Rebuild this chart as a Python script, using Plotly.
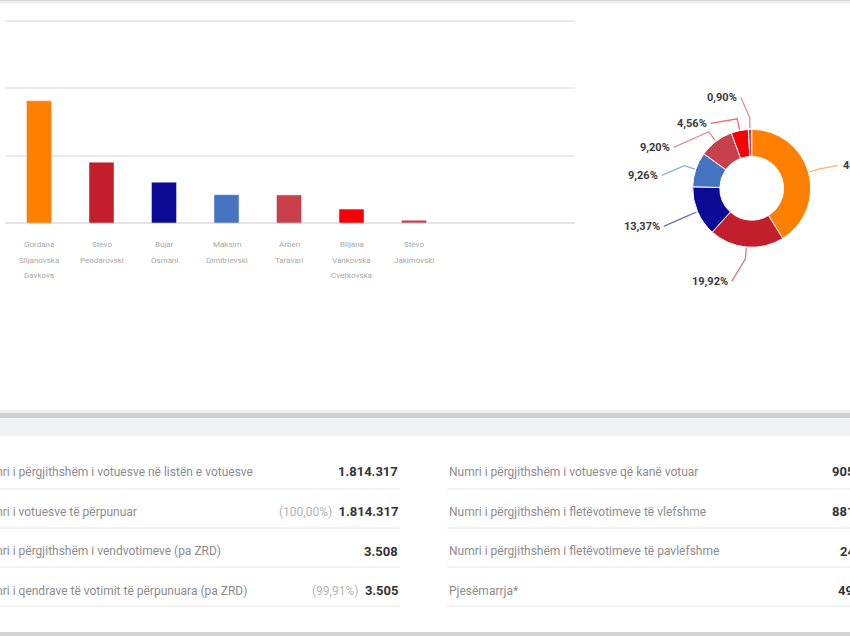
import math
import plotly.graph_objects as go

W, H = 850, 636
FONT = "Roboto"

# ---------------- data ----------------
candidates = ["Gordana Siljanovska Davkova", "Stevo Pendarovski", "Bujar Osmani",
              "Maksim Dimitrievski", "Arben Taravari", "Biljana Vankovska Cvetkovska",
              "Stevo Jakimovski"]
votes = [363085, 180499, 121187, 83935, 83379, 41353, 8164]
shares = [40.08, 19.92, 13.37, 9.26, 9.20, 4.56, 0.90]
share_labels = ["40,08%", "19,92%", "13,37%", "9,26%", "9,20%", "4,56%", "0,90%"]
y_ticks = [0, 200000, 400000, 600000]

stat_labels_left = ["Numri i përgjithshëm i votuesve në listën e votuesve",
                    "Numri i votuesve të përpunuar",
                    "Numri i përgjithshëm i vendvotimeve (pa ZRD)",
                    "Numri i qendrave të votimit të përpunuara (pa ZRD)"]
stat_pct_left = ["", "(100,00%)", "", "(99,91%)"]
stat_values_left = ["1.814.317", "1.814.317", "3.508", "3.505"]
stat_labels_right = ["Numri i përgjithshëm i votuesve që kanë votuar",
                     "Numri i përgjithshëm i fletëvotimeve të vlefshme",
                     "Numri i përgjithshëm i fletëvotimeve të pavlefshme",
                     "Pjesëmarrja*"]
stat_values_right = ["905.722", "881.602", "24.120", "49,92%"]

# ---------------- styles ----------------
colors = ["#FF8000", "#C21E2B", "#0B0B96", "#4673C0", "#C8404C", "#F80008", "#C4434F"]
pie_cx, pie_cy, pie_r = 751.7, 188.3, 59
label_offsets = [(86, -23), (-20, 93), (-88, 38), (-90, -13), (-78, -41), (-41, -65), (-11, -91)]
row_y = [472, 511.5, 551, 590.5]
row_lines = [489, 528, 567, 606]
base_px, grid_top_px = 223, 21   # pixel rows of 0 and of the top tick
y_max = 615000


def px(x):
    return x / W


def py(y):
    return 1 - y / H


def rgba(hexc, a):
    hexc = hexc.lstrip("#")
    r, g, b = int(hexc[0:2], 16), int(hexc[2:4], 16), int(hexc[4:6], 16)
    return f"rgba({r},{g},{b},{a})"


dom_top_px = base_px - (base_px - grid_top_px) * y_max / y_ticks[-1]

fig = go.Figure()

fig.add_trace(go.Bar(x=candidates, y=votes, marker_color=colors, width=0.4,
                     hoverinfo="skip", showlegend=False))

fig.add_trace(go.Pie(values=shares, marker=dict(colors=colors, line=dict(color="white", width=1)),
                     hole=0.54, sort=False, direction="clockwise", rotation=0,
                     textinfo="none", hoverinfo="skip", showlegend=False,
                     domain=dict(x=[px(pie_cx - pie_r), px(pie_cx + pie_r)],
                                 y=[py(pie_cy + pie_r), py(pie_cy - pie_r)])))

shapes = []
annotations = []

# background decorations
shapes += [
    dict(type="rect", xref="paper", yref="paper", x0=0, x1=1, y0=py(1.5), y1=py(0), fillcolor="#d8d8d8", line_width=0, layer="below"),
    dict(type="rect", xref="paper", yref="paper", x0=0, x1=1, y0=py(3.5), y1=py(1.5), fillcolor="#eeeeee", line_width=0, layer="below"),
    dict(type="rect", xref="paper", yref="paper", x0=0, x1=1, y0=py(413), y1=py(410), fillcolor="#ececec", line_width=0, layer="below"),
    dict(type="rect", xref="paper", yref="paper", x0=0, x1=1, y0=py(418), y1=py(413), fillcolor="#cfcfcf", line_width=0, layer="below"),
    dict(type="rect", xref="paper", yref="paper", x0=0, x1=1, y0=py(435), y1=py(418), fillcolor="#f1f2f4", line_width=0, layer="below"),
    dict(type="rect", xref="paper", yref="paper", x0=0, x1=1, y0=py(437), y1=py(435), fillcolor="#f8f8f8", line_width=0, layer="below"),
    dict(type="rect", xref="paper", yref="paper", x0=0, x1=1, y0=py(636), y1=py(632), fillcolor="#d4d4d4", line_width=0, layer="below"),
]

# table row separators
for yl in row_lines:
    shapes.append(dict(type="line", xref="paper", yref="paper", x0=px(0), x1=px(400), y0=py(yl), y1=py(yl),
                       line=dict(color="#e6e6e6", width=1.2)))
    shapes.append(dict(type="line", xref="paper", yref="paper", x0=px(447), x1=px(850), y0=py(yl), y1=py(yl),
                       line=dict(color="#e6e6e6", width=1.2)))

# bar category labels (one line per word)
for name in candidates:
    for j, word in enumerate(name.split(" ")):
        annotations.append(dict(x=name, xref="x", y=0, yref="y", yanchor="middle", xanchor="center",
                                yshift=-(22 + 15 * j), text=word, showarrow=False,
                                font=dict(family=FONT, size=8, color="#a8a8a8")))

# pie leader lines and labels
total = sum(shares)
cum = 0.0
for i, s in enumerate(shares):
    mid = (cum + s / 2) / total * 2 * math.pi
    cum += s
    dx, dy = math.sin(mid), -math.cos(mid)
    ex, ey = pie_cx + (pie_r + 1) * dx, pie_cy + (pie_r + 1) * dy
    bx, by = pie_cx + (pie_r + 12) * dx, pie_cy + (pie_r + 12) * dy
    nx, ny = pie_cx + label_offsets[i][0], pie_cy + label_offsets[i][1]
    path = f"M {px(ex)},{py(ey)} L {px(bx)},{py(by)} L {px(nx)},{py(ny)}"
    shapes.append(dict(type="path", xref="paper", yref="paper", path=path,
                       line=dict(color=rgba(colors[i], 0.6), width=1.3)))
    left_side = label_offsets[i][0] < 0
    annotations.append(dict(x=px(nx), y=py(ny), xref="paper", yref="paper",
                            xanchor="right" if left_side else "left", yanchor="middle",
                            xshift=-2 if left_side else 3,
                            text=f"<b>{share_labels[i]}</b>", showarrow=False,
                            font=dict(family=FONT, size=11, color="#3a3a3a")))

# table texts
for k in range(4):
    annotations.append(dict(x=px(-25), y=py(row_y[k]), xref="paper", yref="paper", xanchor="left",
                            yanchor="middle", text=stat_labels_left[k], showarrow=False,
                            font=dict(family=FONT, size=12, color="#8c8c8c")))
    pct = stat_pct_left[k]
    txt = (f"<span style='color:#b4b4b4;font-size:12px'>{pct}</span>  " if pct else "") + \
          f"<b>{stat_values_left[k]}</b>"
    annotations.append(dict(x=px(400), y=py(row_y[k]), xref="paper", yref="paper", xanchor="right",
                            yanchor="middle", text=txt, showarrow=False,
                            font=dict(family=FONT, size=13, color="#333333")))
    annotations.append(dict(x=px(447), y=py(row_y[k]), xref="paper", yref="paper", xanchor="left",
                            yanchor="middle", text=stat_labels_right[k], showarrow=False,
                            font=dict(family=FONT, size=12, color="#8c8c8c")))
    annotations.append(dict(x=px(883), y=py(row_y[k]), xref="paper", yref="paper", xanchor="right",
                            yanchor="middle", text=f"<b>{stat_values_right[k]}</b>", showarrow=False,
                            font=dict(family=FONT, size=13, color="#333333")))

fig.update_layout(
    width=W, height=H,
    margin=dict(l=0, r=0, t=0, b=0),
    paper_bgcolor="white", plot_bgcolor="white",
    font=dict(family=FONT),
    bargap=0.6,
    xaxis=dict(domain=[px(5), px(575)], type="category", range=[-0.544, 8.576],
               showticklabels=False, showgrid=False, zeroline=False, showline=False, ticks="",
               fixedrange=True),
    yaxis=dict(domain=[py(base_px), py(dom_top_px)], range=[0, y_max], tickvals=y_ticks,
               showticklabels=False, showgrid=True, gridcolor="#ebebeb", gridwidth=1.5,
               zeroline=True, zerolinecolor="#e4e4e4", zerolinewidth=1.5,
               showline=False, ticks="", fixedrange=True),
    shapes=shapes,
    annotations=annotations,
)

fig.write_html("out.html", config={"displayModeBar": False},
               post_script="document.body.style.margin='0';document.body.style.overflow='hidden';")
